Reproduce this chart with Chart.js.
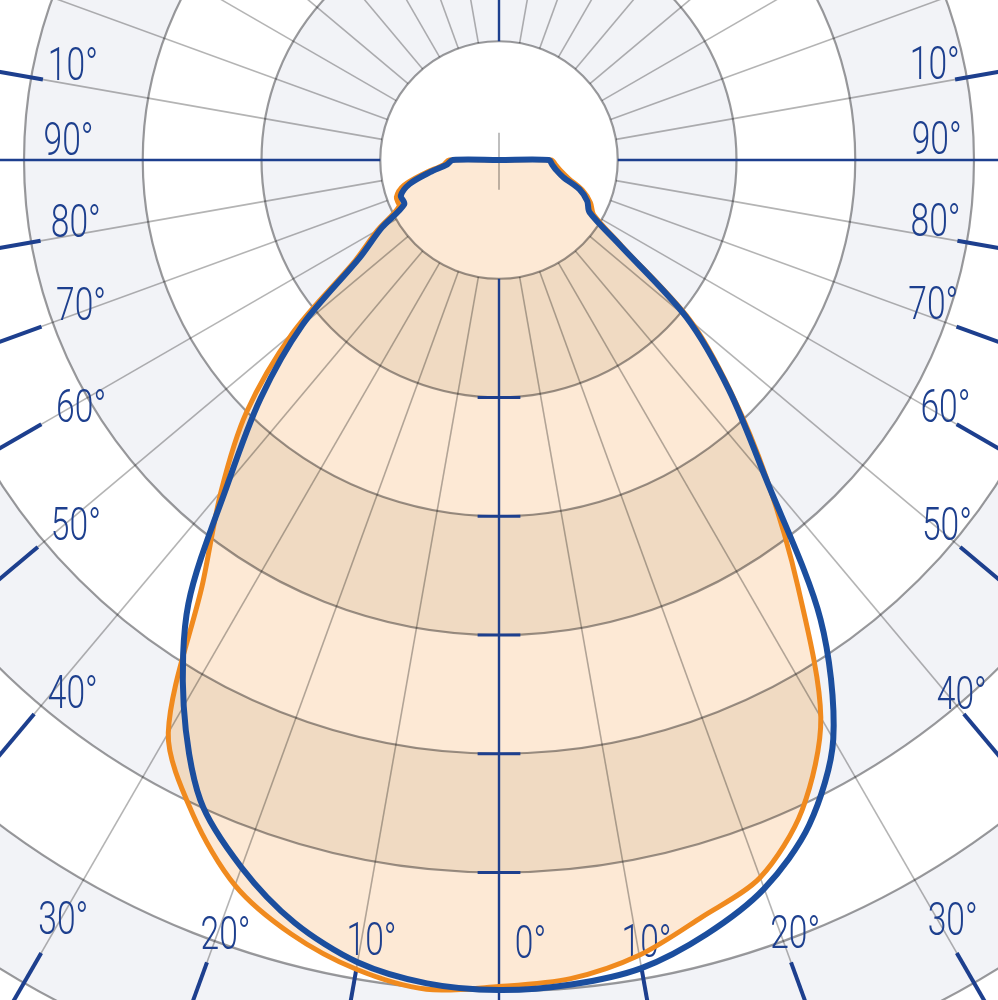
<!DOCTYPE html>
<html>
<head>
<meta charset="utf-8">
<script src="https://cdn.jsdelivr.net/npm/chart.js@4.4.0/dist/chart.umd.min.js"></script>
<style>
html,body{margin:0;padding:0;background:#fff;overflow:hidden;}
#wrap{position:relative;width:998px;height:1000px;overflow:hidden;background:#fff;}
#c{position:absolute;left:-701px;top:-1040px;}
</style>
</head>
<body>
<div id="wrap"><canvas id="c" width="2400" height="2400"></canvas></div>
<script>
// ---- data (intensity in scale units, 100 units per ring) ----
const halfAngles  = [0,5,10,15,20,25,30,35,40,45,50,55,60,65,70,75,80,85,90];
const blueLeft    = [699,696,686,665,634,595,531,456,355,284,216,143,114,88,88,78,59,44,39];
const blueRight   = [700,697,691,675,653,618,563,472,349,274,206,123,88,82,72,56,49,45,42];
const orangeLeft  = [696,701,692,675,650,609,557,435,364,301,227,148,118,93,92,83,63,47,42];
const orangeRight = [697,692,680,660,643,604,542,439,351,276,210,126,92,85,75,61,53,48,44];

const angleStep = 5;
const categories = Array.from({length: 360 / angleStep}, (_, i) => (i * angleStep) + '°');

// angle tick labels
const leftLabels  = ['10°','90°','80°','70°','60°','50°','40°','30°','20°','10°'];
const rightLabels = ['10°','90°','80°','70°','60°','50°','40°','30°','20°','10°'];
const centerLabel = '0°';
// angles (deg from nadir) that carry a frame tick
const tickAngles = [100,80,70,60,50,40,30,20,10];

// ---- layout ----
const RING = 100;            // scale units per ring
const PX_PER_RING = 118.75;
const SIZE = 2400;
const MAXV = Math.floor(SIZE / 2) / PX_PER_RING * RING;
const leftLabelPos  = [[102.8,368],[92.9,363],[81.9,360],[71.1,372],[59.6,408],[49.3,470],[38.7,574],[29.9,736],[19.5,690],[9.3,664]];
const rightLabelPos = [[102.6,376],[92.9,369],[82.2,371],[71.8,385],[61.2,429],[50.9,486],[41,594],[30.9,744],[21,696],[10.7,669]];
const centerLabelPos = [-2.3,659];
const tickStart = [390,392,410,445,507,609,771,719,693];

function fullProfile(left, right) {
  return categories.map((_, i) => {
    const a = i * angleStep;
    if (a <= 90) return left[halfAngles.indexOf(a)];
    if (a >= 270) return right[halfAngles.indexOf(360 - a)];
    return 0;
  });
}

function polar(s, deg, value) {
  const d = s.getDistanceFromCenterForValue(value);
  const a = deg * Math.PI / 180;
  return {x: s.xCenter - Math.sin(a) * d, y: s.yCenter + Math.cos(a) * d};
}

const NAVY = '#1d3f8e';
const LABEL_FONT = '300 46px Roboto, "Liberation Sans", sans-serif';

function line(ctx, p, q) { ctx.beginPath(); ctx.moveTo(p.x, p.y); ctx.lineTo(q.x, q.y); ctx.stroke(); }

function bands(ctx, s, cx, cy) {
  for (let k = 1; k < 12; k += 2) {
    ctx.beginPath();
    ctx.arc(cx, cy, s.getDistanceFromCenterForValue((k + 1) * RING), 0, Math.PI * 2);
    ctx.arc(cx, cy, s.getDistanceFromCenterForValue(k * RING), 0, Math.PI * 2, true);
    ctx.fill();
  }
}

const gridPlugin = {
  id: 'photometricGrid',
  beforeDraw(chart) {
    const ctx = chart.ctx;
    ctx.save(); ctx.fillStyle = '#fff'; ctx.fillRect(0, 0, chart.width, chart.height); ctx.restore();
  },
  afterDatasetDraw(chart, args) {
    if (args.index !== 2) return;
    const ctx = chart.ctx, s = chart.scales.r;
    const cx = s.xCenter, cy = s.yCenter;
    const far = RING * 12;
    ctx.save();
    ctx.globalCompositeOperation = 'multiply';
    // alternating bands
    ctx.fillStyle = 'rgb(242,243,247)';
    bands(ctx, s, cx, cy);
    ctx.restore();
    // warmer tint of the bands inside the lit area
    try {
      ctx.save();
      ctx.beginPath();
      chart.getDatasetMeta(2).dataset.path(ctx);
      ctx.closePath();
      ctx.clip();
      ctx.globalCompositeOperation = 'multiply';
      ctx.fillStyle = 'rgb(255,251,240)';
      bands(ctx, s, cx, cy);
    } catch (e) {}
    ctx.restore();

    ctx.save();
    ctx.globalCompositeOperation = 'multiply';
    // spokes every 10 deg
    ctx.strokeStyle = 'rgb(180,180,180)';
    ctx.lineWidth = 1.6;
    for (let a = 0; a < 360; a += 10) {
      if (a % 90 === 0) continue;
      line(ctx, polar(s, a, RING), polar(s, a, far));
    }
    // rings
    ctx.strokeStyle = 'rgb(155,155,157)';
    ctx.lineWidth = 2.2;
    for (let k = 1; k <= 12; k++) {
      ctx.beginPath();
      ctx.arc(cx, cy, s.getDistanceFromCenterForValue(k * RING), 0, Math.PI * 2);
      ctx.stroke();
    }
    // small centre mark
    ctx.strokeStyle = 'rgb(175,175,175)';
    ctx.lineWidth = 1.6;
    line(ctx, {x: cx, y: cy - s.getDistanceFromCenterForValue(23)}, {x: cx, y: cy + s.getDistanceFromCenterForValue(25)});
    ctx.restore();

    ctx.save();
    // main axes (navy)
    ctx.strokeStyle = NAVY;
    ctx.lineWidth = 2.4;
    [0, 90, 180, -90].forEach(a => line(ctx, polar(s, a, RING), polar(s, a, far)));
    // ring ticks on the 0° axis
    ctx.lineWidth = 3;
    const tickHalf = s.getDistanceFromCenterForValue(18);
    for (let k = 2; k <= 6; k++) {
      const y = cy + s.getDistanceFromCenterForValue(k * RING);
      line(ctx, {x: cx - tickHalf, y}, {x: cx + tickHalf, y});
    }
    // frame ticks
    ctx.lineWidth = 4;
    tickAngles.forEach((a, i) => {
      line(ctx, polar(s, a, tickStart[i]), polar(s, a, far));
      line(ctx, polar(s, -a, tickStart[i]), polar(s, -a, far));
    });
    // labels
    ctx.fillStyle = NAVY;
    ctx.font = LABEL_FONT;
    ctx.textAlign = 'center';
    ctx.textBaseline = 'alphabetic';
    const w = ctx.measureText('90°').width;
    const sx = 50 / w;
    const drawLabel = (txt, deg, val) => {
      const p = polar(s, deg, val);
      ctx.save();
      ctx.translate(p.x, p.y + 16.5);
      ctx.scale(sx, 1);
      ctx.fillText(txt, 0, 0);
      ctx.restore();
    };
    leftLabels.forEach((t, i) => drawLabel(t, leftLabelPos[i][0], leftLabelPos[i][1]));
    rightLabels.forEach((t, i) => drawLabel(t, -rightLabelPos[i][0], rightLabelPos[i][1]));
    drawLabel(centerLabel, centerLabelPos[0], centerLabelPos[1]);
    ctx.restore();
  }
};

new Chart(document.getElementById('c'), {
  type: 'radar',
  data: {
    labels: categories,
    datasets: [
      {label: 'curve B', data: fullProfile(blueLeft, blueRight), borderColor: '#1b4e9e', borderWidth: 6,
       fill: false, pointRadius: 0, tension: 0.3, order: 1},
      {label: 'curve A', data: fullProfile(orangeLeft, orangeRight), borderColor: '#f08a1e', borderWidth: 5,
       fill: false, pointRadius: 0, tension: 0.3, order: 2},
      {label: 'area', data: fullProfile(orangeLeft, orangeRight), borderColor: 'rgba(0,0,0,0)', borderWidth: 0,
       backgroundColor: '#fde9d5', fill: true, pointRadius: 0, tension: 0.3, order: 3}
    ]
  },
  options: {
    responsive: false,
    animation: false,
    devicePixelRatio: 1,
    layout: {padding: 0},
    plugins: {legend: {display: false}, tooltip: {enabled: false}},
    elements: {line: {borderJoinStyle: 'round', borderCapStyle: 'round'}},
    scales: {
      r: {
        min: 0, max: MAXV, startAngle: 180,
        grid: {display: false}, angleLines: {display: false},
        pointLabels: {display: false}, ticks: {display: false}
      }
    }
  },
  plugins: [gridPlugin]
});
</script>
</body>
</html>
